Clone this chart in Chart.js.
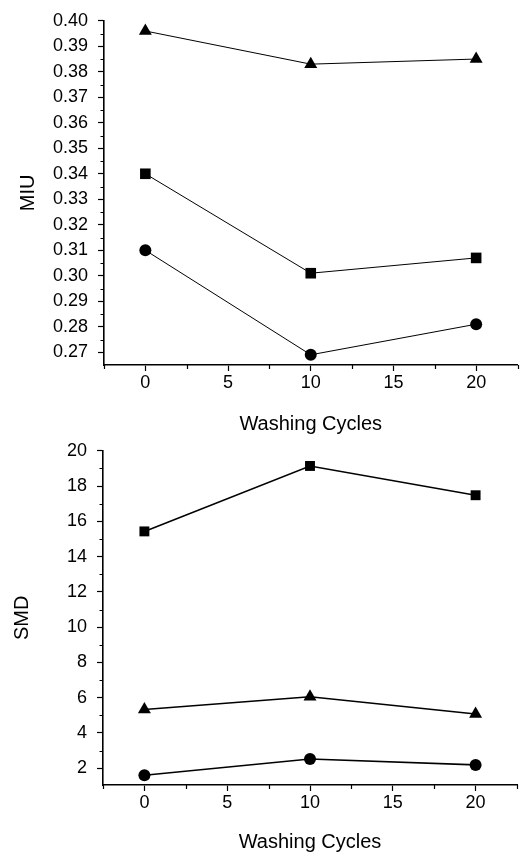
<!DOCTYPE html>
<html>
<head>
<meta charset="utf-8">
<script src="https://cdn.jsdelivr.net/npm/chart.js@4.4.0/dist/chart.umd.min.js"></script>
<style>
  html, body { margin: 0; padding: 0; background: #fff; }
  body { width: 525px; height: 854px; position: relative; overflow: hidden; }
  .panel { position: absolute; left: 0; width: 525px; }
  #miuBox { top: 0; height: 440px; }
  #smdBox { top: 430px; height: 424px; }
</style>
</head>
<body>
<div class="panel" id="miuBox"><canvas id="miuChart"></canvas></div>
<div class="panel" id="smdBox"><canvas id="smdChart"></canvas></div>
<script>
// Washing cycles on the x axis
const cycles = [0, 10, 20];

// MIU panel (top)
const miuTriangle = [0.396, 0.383, 0.385];
const miuSquare = [0.340, 0.301, 0.307];
const miuCircle = [0.310, 0.269, 0.281];

// SMD panel (bottom)
const smdSquare = [15.43, 19.14, 17.48];
const smdTriangle = [5.33, 6.05, 5.08];
const smdCircle = [1.60, 2.52, 2.19];

// tick labels
const xTicks = [0, 5, 10, 15, 20];
const xMinor = [-2.5, 2.5, 7.5, 12.5, 17.5, 22.5];
const miuTicks = [0.27, 0.28, 0.29, 0.30, 0.31, 0.32, 0.33, 0.34, 0.35, 0.36, 0.37, 0.38, 0.39, 0.40];
const miuMinor = [0.275, 0.285, 0.295, 0.305, 0.315, 0.325, 0.335, 0.345, 0.355, 0.365, 0.375, 0.385, 0.395];
const smdTicks = [2, 4, 6, 8, 10, 12, 14, 16, 18, 20];
const smdMinor = [3, 5, 7, 9, 11, 13, 15, 17, 19];

const FONT = "'Liberation Sans', Arial, sans-serif";

// short ticks between the labelled ones
const minorTicks = {
    id: 'minorTicks',
    afterDraw(chart, args, opts) {
        const ctx = chart.ctx;
        const xs = chart.scales.x;
        const ys = chart.scales.y;
        ctx.save();
        ctx.strokeStyle = '#000';
        ctx.lineWidth = 1.2;
        ctx.beginPath();
        (opts.x || []).forEach(v => {
            const px = Math.round(xs.getPixelForValue(v)) + 0.5;
            ctx.moveTo(px, xs.top);
            ctx.lineTo(px, xs.top + 4);
        });
        (opts.y || []).forEach(v => {
            const py = Math.round(ys.getPixelForValue(v)) + 0.5;
            ctx.moveTo(ys.right, py);
            ctx.lineTo(ys.right - 3.5, py);
        });
        ctx.stroke();
        ctx.restore();
    }
};

function points(values) {
    return cycles.map((c, i) => ({ x: c, y: values[i] }));
}

function series(values, style, radius, width) {
    return {
        data: points(values),
        borderColor: '#000',
        backgroundColor: '#000',
        borderWidth: width,
        pointStyle: style,
        pointRadius: radius,
        pointBorderWidth: 0,
        fill: false,
        tension: 0,
        clip: false
    };
}

function buildOptions(cfg) {
    return {
        responsive: true,
        maintainAspectRatio: false,
        animation: false,
        layout: { padding: cfg.padding },
        plugins: {
            legend: { display: false },
            tooltip: { enabled: false },
            minorTicks: { x: xMinor, y: cfg.yMinor }
        },
        scales: {
            x: {
                type: 'linear',
                min: -2.5,
                max: 22.5,
                afterBuildTicks: s => { s.ticks = xTicks.map(v => ({ value: v })); },
                afterFit: s => { s.height = cfg.xHeight; },
                border: { display: true, color: '#000', width: 1.6 },
                grid: { drawOnChartArea: false, drawTicks: true, tickLength: 6, tickColor: '#000', tickWidth: 1.2 },
                ticks: { color: '#000', padding: 1, autoSkip: false, maxRotation: 0, font: { family: FONT, size: 18 } },
                title: { display: true, text: 'Washing Cycles', color: '#000', font: { family: FONT, size: 20 }, padding: { top: 0, bottom: cfg.xTitlePad } }
            },
            y: {
                min: cfg.yMin,
                max: cfg.yMax,
                afterBuildTicks: s => { s.ticks = cfg.yTicks.map(v => ({ value: v })); },
                afterFit: s => { s.width = cfg.yWidth; },
                border: { display: true, color: '#000', width: 1.6 },
                grid: { drawOnChartArea: false, drawTicks: true, tickLength: 6, tickColor: '#000', tickWidth: 1.2 },
                ticks: {
                    color: '#000',
                    padding: 10,
                    autoSkip: false,
                    font: { family: FONT, size: 18 },
                    callback: v => v.toFixed(cfg.decimals)
                },
                title: { display: true, text: cfg.yTitle, color: '#000', font: { family: FONT, size: 20 }, padding: { top: cfg.yTitlePad, bottom: 0 } }
            }
        }
    };
}

document.addEventListener('DOMContentLoaded', function() {
    new Chart(document.getElementById('miuChart'), {
        type: 'line',
        data: {
            datasets: [
                series(miuTriangle, 'triangle', 7.5, 1),
                series(miuSquare, 'rect', 7.5, 1),
                series(miuCircle, 'circle', 6, 1)
            ]
        },
        options: buildOptions({
            yMin: 0.265, yMax: 0.40, yTicks: miuTicks, yMinor: miuMinor, decimals: 2,
            yTitle: 'MIU', yTitlePad: 16, yWidth: 104, xHeight: 75, xTitlePad: 4,
            padding: { top: 15, right: 7, bottom: 0, left: 0 }
        }),
        plugins: [minorTicks]
    });

    new Chart(document.getElementById('smdChart'), {
        type: 'line',
        data: {
            datasets: [
                series(smdSquare, 'rect', 7, 1.6),
                series(smdTriangle, 'triangle', 7.5, 1.6),
                series(smdCircle, 'circle', 6, 1.6)
            ]
        },
        options: buildOptions({
            yMin: 1.05, yMax: 20, yTicks: smdTicks, yMinor: smdMinor, decimals: 0,
            yTitle: 'SMD', yTitlePad: 10.5, yWidth: 103, xHeight: 69, xTitlePad: 0,
            padding: { top: 11, right: 8, bottom: 0, left: 0 }
        }),
        plugins: [minorTicks]
    });
});
</script>
</body>
</html>
